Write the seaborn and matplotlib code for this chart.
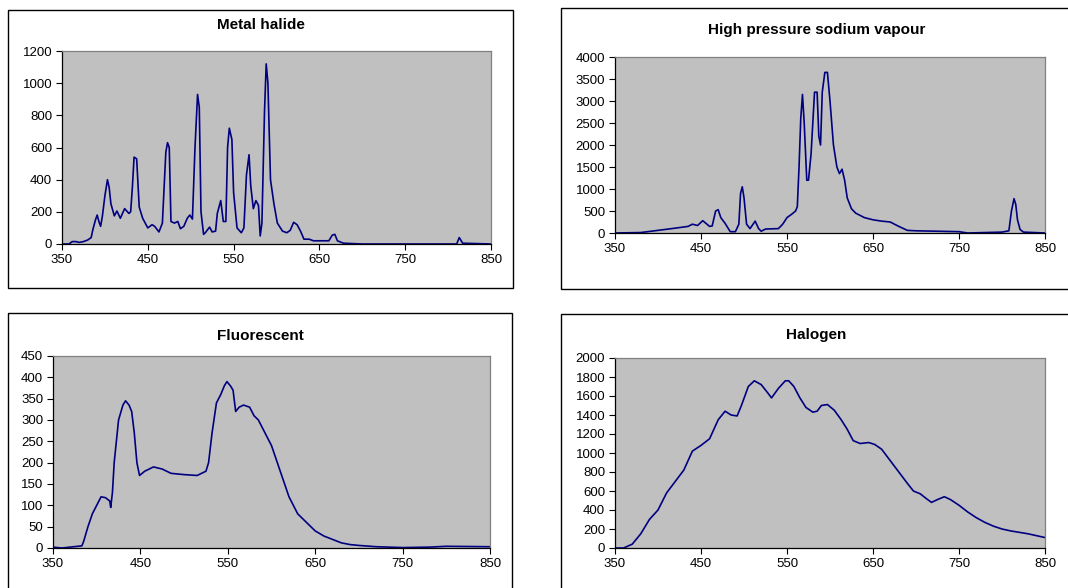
import numpy as np
import pandas as pd
import matplotlib
matplotlib.use('Agg')
import matplotlib.pyplot as plt
from matplotlib.patches import Rectangle
import seaborn as sns

# Spectra (wavelength in nm, intensity in counts)
metal_halide_nm = [350, 358, 362, 366, 370, 375, 380, 384, 386, 389,
                   391, 393, 395, 397, 400, 403, 405, 407, 411, 414,
                   418, 423, 428, 430, 432, 434, 437, 440, 444, 450,
                   455, 458, 463, 467, 471, 473, 475, 477, 481, 485,
                   488, 492, 496, 499, 502, 505, 508, 510, 512, 515,
                   517, 522, 525, 529, 531, 535, 538, 541, 543, 545,
                   548, 550, 554, 559, 562, 565, 568, 570, 573, 576,
                   579, 581, 583, 586, 588, 590, 593, 597, 601, 607,
                   612, 616, 620, 624, 628, 632, 638, 643, 661, 665,
                   668, 671, 678, 700, 750, 800, 810, 813, 817, 850]
metal_halide_val = [0, 0, 15, 15, 10, 15, 25, 40, 90, 150,
                    180, 140, 110, 170, 300, 400, 350, 250, 175, 205,
                    160, 220, 190, 200, 350, 540, 530, 230, 160, 100,
                    120, 110, 75, 130, 570, 630, 600, 140, 130, 140,
                    95, 110, 160, 180, 155, 600, 930, 850, 200, 60,
                    70, 105, 75, 80, 190, 270, 140, 140, 600, 720,
                    650, 320, 100, 70, 100, 430, 555, 360, 220, 270,
                    240, 50, 130, 820, 1120, 1000, 400, 250, 130, 80,
                    70, 85, 135, 120, 80, 30, 30, 20, 20, 55,
                    60, 20, 5, 0, 0, 0, 0, 40, 5, 0]

sodium_nm = [350, 380, 400, 420, 435, 440, 446, 452, 460, 463,
             467, 470, 473, 478, 484, 490, 494, 496, 498, 500,
             503, 507, 513, 517, 520, 525, 540, 545, 550, 555,
             560, 562, 564, 566, 568, 570, 573, 575, 578, 580,
             582, 585, 587, 589, 591, 594, 597, 600, 604, 608,
             611, 614, 617, 620, 625, 630, 640, 650, 660, 670,
             680, 690, 700, 750, 760, 800, 808, 811, 814, 816,
             818, 821, 825, 850]
sodium_val = [0, 10, 60, 110, 150, 200, 170, 280, 150, 160,
              500, 530, 350, 220, 30, 30, 200, 900, 1050, 800,
              200, 100, 270, 100, 40, 90, 100, 200, 350, 420,
              500, 600, 1500, 2600, 3150, 2500, 1200, 1200, 1800, 2500,
              3200, 3200, 2200, 2000, 3200, 3650, 3650, 3000, 2000, 1500,
              1350, 1450, 1200, 800, 550, 450, 350, 300, 270, 250,
              150, 60, 50, 30, 0, 20, 50, 500, 780, 650,
              300, 80, 20, 0]

fluorescent_nm = [350, 360, 383, 385, 390, 395, 400, 405, 410, 415,
                  416, 418, 420, 425, 430, 433, 437, 440, 443, 446,
                  449, 455, 465, 475, 485, 500, 515, 525, 528, 532,
                  537, 542, 546, 549, 553, 556, 559, 563, 568, 575,
                  580, 585, 590, 600, 610, 620, 630, 640, 650, 660,
                  670, 680, 690, 700, 720, 750, 780, 800, 850]
fluorescent_val = [2, 0, 5, 15, 50, 80, 100, 120, 118, 110,
                   95, 130, 200, 300, 335, 345, 335, 320, 270, 200,
                   170, 180, 190, 185, 175, 172, 170, 180, 200, 270,
                   340, 360, 380, 390, 380, 370, 320, 330, 335, 330,
                   310, 300, 280, 240, 180, 120, 80, 60, 40, 28,
                   20, 12, 8, 6, 3, 1, 2, 4, 3]

halogen_nm = [350, 360, 370, 380, 390, 400, 410, 420, 430, 440,
              450, 460, 470, 478, 485, 492, 497, 505, 512, 520,
              527, 532, 540, 548, 552, 558, 565, 572, 580, 585,
              590, 597, 605, 613, 620, 627, 635, 645, 652, 660,
              670, 680, 690, 697, 705, 712, 718, 725, 733, 740,
              750, 760, 770, 780, 790, 800, 810, 820, 830, 840, 850]
halogen_val = [0, 0, 40, 150, 300, 400, 580, 700, 820, 1020,
               1080, 1150, 1350, 1440, 1400, 1390, 1500, 1700, 1760, 1720,
               1640, 1580, 1680, 1760, 1760, 1700, 1580, 1480, 1430, 1440,
               1500, 1510, 1450, 1350, 1250, 1130, 1100, 1110, 1090, 1040,
               920, 800, 680, 600, 570, 520, 480, 510, 540, 510,
               450, 380, 320, 270, 230, 200, 180, 165, 150, 130, 110]

titles = ['Metal halide', 'High pressure sodium vapour', 'Fluorescent', 'Halogen']
y_max = [1200, 4000, 450, 2000]
y_step = [200, 500, 50, 200]
x_ticks = [350, 450, 550, 650, 750, 850]

W, H = 1068, 588


def fig_box(x0, y0, x1, y1):
    """Convert pixel box (top-left origin) to figure fraction rect."""
    return [x0 / W, 1 - y1 / H, (x1 - x0) / W, (y1 - y0) / H]


def draw_panel(fig, rect, frame, title, title_y, nm, val, ymax, ystep):
    # outer chart frame like the spreadsheet chart area
    fx0, fy0, fx1, fy1 = frame
    fr = fig_box(fx0, fy0, fx1, fy1)
    fig.add_artist(Rectangle((fr[0], fr[1]), fr[2], fr[3], transform=fig.transFigure,
                             fill=False, edgecolor='black', linewidth=1.0))
    fig.text((fx0 + min(fx1, 1072)) / 2 / W, 1 - title_y / H, title,
             ha='center', va='center', fontsize=11, fontweight='bold', color='black')

    ax = fig.add_axes(fig_box(*rect))
    df = pd.DataFrame({'nm': nm, 'counts': val})
    sns.lineplot(data=df, x='nm', y='counts', ax=ax, color='#000080',
                 linewidth=1.2, estimator=None, sort=False)
    ax.set_facecolor('#C0C0C0')
    ax.set_xlim(350, 850)
    ax.set_ylim(0, ymax)
    ax.set_xticks(x_ticks)
    ax.set_yticks(np.arange(0, ymax + 1, ystep))
    ax.set_xlabel('')
    ax.set_ylabel('')
    ax.tick_params(axis='both', direction='out', length=4, width=0.8,
                   labelsize=9.5, pad=3, colors='black')
    for side in ['left', 'bottom']:
        ax.spines[side].set_color('black')
        ax.spines[side].set_linewidth(0.9)
    for side in ['top', 'right']:
        ax.spines[side].set_visible(True)
        ax.spines[side].set_color('#808080')
        ax.spines[side].set_linewidth(0.9)
    return ax


def main():
    sns.set_style('ticks')
    plt.rcParams['font.family'] = ['Liberation Sans', 'DejaVu Sans']
    plt.rcParams['text.color'] = 'black'

    fig = plt.figure(figsize=(W / 100, H / 100), dpi=100)
    fig.patch.set_facecolor('white')

    draw_panel(fig, (62, 51, 491, 244), (8, 10, 513, 288), titles[0], 25,
               metal_halide_nm, metal_halide_val, y_max[0], y_step[0])
    draw_panel(fig, (615, 57, 1045, 233), (561, 8, 1090, 289), titles[1], 30,
               sodium_nm, sodium_val, y_max[1], y_step[1])
    draw_panel(fig, (53, 356, 490, 548), (8, 313, 512, 620), titles[2], 336,
               fluorescent_nm, fluorescent_val, y_max[2], y_step[2])
    draw_panel(fig, (615, 358, 1045, 548), (561, 314, 1090, 620), titles[3], 335,
               halogen_nm, halogen_val, y_max[3], y_step[3])

    fig.savefig('out.png', dpi=100)


if __name__ == "__main__":
    main()
